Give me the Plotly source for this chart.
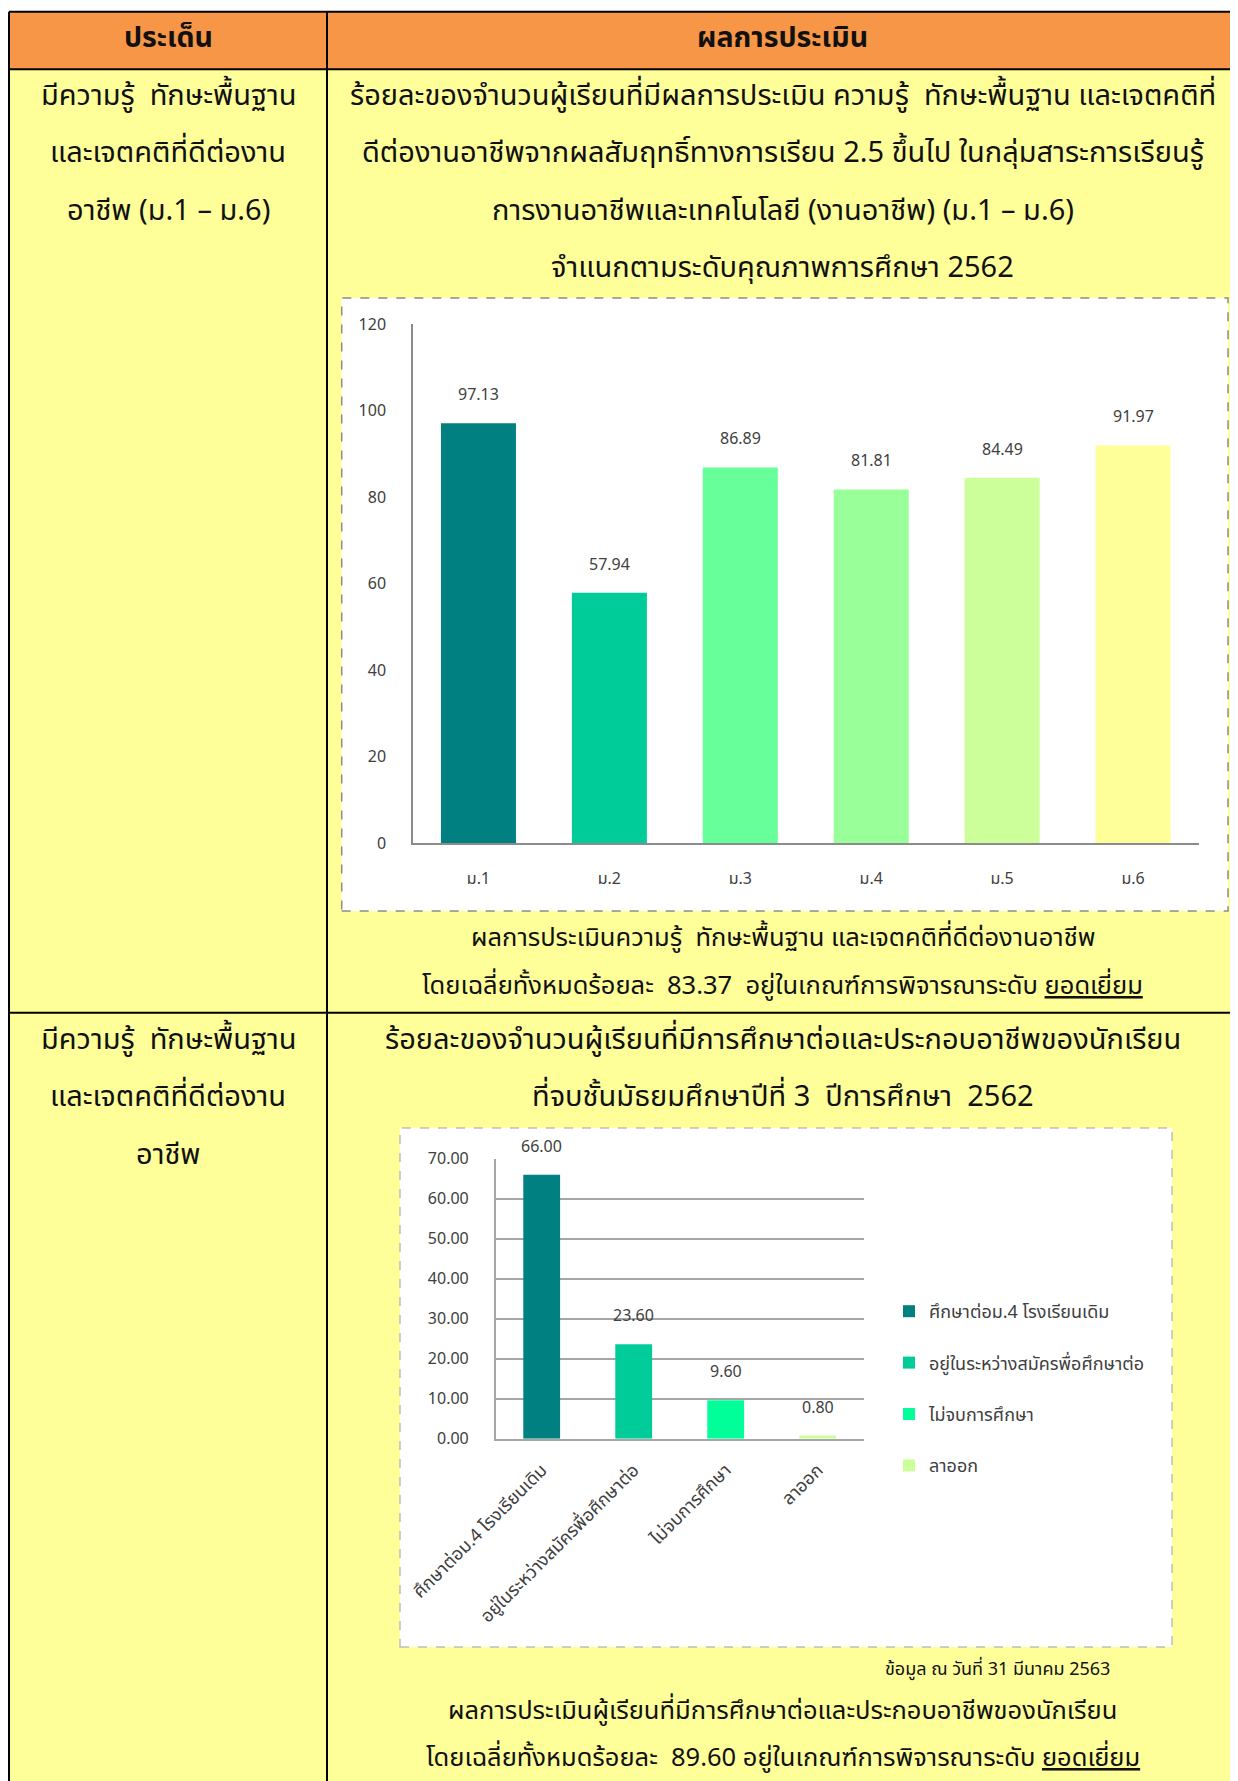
import plotly.graph_objects as go

PAGE_W, PAGE_H = 1238, 1781
OFF = 8  # default body margin of the html page
W, H = PAGE_W - OFF, PAGE_H - OFF

# ---------------- data ----------------
grades = ["ม.1", "ม.2", "ม.3", "ม.4", "ม.5", "ม.6"]
grade_pct = [97.13, 57.94, 86.89, 81.81, 84.49, 91.97]
grade_colors = ["#008080", "#00CC99", "#66FF99", "#99FF99", "#CCFF99", "#FFFF99"]
y1_ticks = [0, 20, 40, 60, 80, 100, 120]

outcomes = ["ศึกษาต่อม.4 โรงเรียนเดิม", "อยู่ในระหว่างสมัครพื่อศึกษาต่อ", "ไม่จบการศึกษา", "ลาออก"]
outcome_pct = [66.00, 23.60, 9.60, 0.80]
outcome_colors = ["#008080", "#00CC99", "#00FF99", "#CCFF99"]
y2_ticks = [0, 10, 20, 30, 40, 50, 60, 70]

header_left = "ประเด็น"
header_right = "ผลการประเมิน"
row1_left = ["มีความรู้  ทักษะพื้นฐาน", "และเจตคติที่ดีต่องาน", "อาชีพ (ม.1 – ม.6)"]
row1_title = ["ร้อยละของจำนวนผู้เรียนที่มีผลการประเมิน ความรู้  ทักษะพื้นฐาน และเจตคติที่",
              "ดีต่องานอาชีพจากผลสัมฤทธิ์ทางการเรียน 2.5 ขึ้นไป ในกลุ่มสาระการเรียนรู้",
              "การงานอาชีพและเทคโนโลยี (งานอาชีพ) (ม.1 – ม.6)",
              "จำแนกตามระดับคุณภาพการศึกษา 2562"]
row1_summary = ["ผลการประเมินความรู้  ทักษะพื้นฐาน และเจตคติที่ดีต่องานอาชีพ",
                "โดยเฉลี่ยทั้งหมดร้อยละ  83.37  อยู่ในเกณฑ์การพิจารณาระดับ <u>ยอดเยี่ยม</u>"]
row2_left = ["มีความรู้  ทักษะพื้นฐาน", "และเจตคติที่ดีต่องาน", "อาชีพ"]
row2_title = ["ร้อยละของจำนวนผู้เรียนที่มีการศึกษาต่อและประกอบอาชีพของนักเรียน",
              "ที่จบชั้นมัธยมศึกษาปีที่ 3  ปีการศึกษา  2562"]
row2_note = "ข้อมูล ณ วันที่ 31 มีนาคม 2563"
row2_summary = ["ผลการประเมินผู้เรียนที่มีการศึกษาต่อและประกอบอาชีพของนักเรียน",
                "โดยเฉลี่ยทั้งหมดร้อยละ  89.60 อยู่ในเกณฑ์การพิจารณาระดับ <u>ยอดเยี่ยม</u>"]


def fx(x):
    return (x - OFF) / W


def fy(y):
    return 1 - (y - OFF) / H


FONT = "Tahoma, 'Noto Sans Thai', 'Noto Sans', sans-serif"
TXT = "#111111"
TICK = "#404040"
BODY_SIZE = 29
SUM_SIZE = 25.5

fig = go.Figure()

# chart 1
fig.add_trace(go.Bar(x=grades, y=grade_pct, marker=dict(color=grade_colors, line=dict(width=0)),
                     width=0.573, showlegend=False, xaxis="x", yaxis="y", hoverinfo="x+y"))

# chart 2
for name, val, col in zip(outcomes, outcome_pct, outcome_colors):
    fig.add_trace(go.Bar(x=[name], y=[val], name=name, legendgroup=name,
                         marker=dict(color=col, line=dict(width=0)), width=0.4,
                         xaxis="x2", yaxis="y2"))

shapes = []
# table backgrounds
shapes.append(dict(type="rect", xref="paper", yref="paper", x0=fx(9), x1=fx(1245), y0=fy(69.3), y1=fy(11.7),
                   fillcolor="#F79646", line=dict(width=0), layer="below"))
shapes.append(dict(type="rect", xref="paper", yref="paper", x0=fx(9), x1=fx(1245), y0=fy(1790), y1=fy(69.3),
                   fillcolor="#FFFF99", line=dict(width=0), layer="below"))
# chart boxes
shapes.append(dict(type="rect", xref="paper", yref="paper", x0=fx(341.7), x1=fx(1228), y0=fy(911), y1=fy(298),
                   fillcolor="white", line=dict(color="#8C8C8C", width=1.5, dash="dash"), layer="below"))
shapes.append(dict(type="rect", xref="paper", yref="paper", x0=fx(400), x1=fx(1172), y0=fy(1647), y1=fy(1128),
                   fillcolor="white", line=dict(color="#BFBFBF", width=1.5, dash="dash"), layer="below"))
# table lines
black = dict(color="black", width=2)
shapes += [
    dict(type="line", xref="paper", yref="paper", x0=fx(9), x1=fx(1245), y0=fy(11.7), y1=fy(11.7), line=black),
    dict(type="line", xref="paper", yref="paper", x0=fx(9), x1=fx(1245), y0=fy(69.3), y1=fy(69.3), line=black),
    dict(type="line", xref="paper", yref="paper", x0=fx(9), x1=fx(1245), y0=fy(1012.7), y1=fy(1012.7), line=black),
    dict(type="line", xref="paper", yref="paper", x0=fx(9), x1=fx(9), y0=fy(1790), y1=fy(11.7), line=black),
    dict(type="line", xref="paper", yref="paper", x0=fx(327), x1=fx(327), y0=fy(1790), y1=fy(11.7), line=black),
]

annotations = []


def txt(text, x, y, size=BODY_SIZE, bold=False, color=TXT):
    annotations.append(dict(text=f"<b>{text}</b>" if bold else text, x=fx(x), y=fy(y), xref="paper", yref="paper",
                            xanchor="center", yanchor="middle", showarrow=False,
                            font=dict(family=FONT, size=size, color=color)))


txt(header_left, 168, 39, size=28.5, bold=True)
txt(header_right, 782.5, 39, size=28.5, bold=True)
for i, t in enumerate(row1_left):
    txt(t, 168, 96 + i * 57.3)
for i, t in enumerate(row1_title):
    txt(t, 782.5, 96 + i * 57.3)
txt(row1_summary[0], 782.5, 938, size=SUM_SIZE)
txt(row1_summary[1], 782.5, 986, size=SUM_SIZE)
for i, t in enumerate(row2_left):
    txt(t, 168, 1040 + i * 57.3)
for i, t in enumerate(row2_title):
    txt(t, 782.5, 1040 + i * 57.3)
txt(row2_note, 997, 1669, size=18)
txt(row2_summary[0], 782.5, 1711, size=SUM_SIZE)
txt(row2_summary[1], 782.5, 1758, size=SUM_SIZE)

# bar value labels
for g, v in zip(grades, grade_pct):
    annotations.append(dict(text=f"{v:.2f}", x=g, y=v, xref="x", yref="y", yshift=28, showarrow=False,
                            font=dict(family=FONT, size=16, color=TICK)))
for o, v in zip(outcomes, outcome_pct):
    annotations.append(dict(text=f"{v:.2f}", x=o, y=v, xref="x2", yref="y2", yshift=28, showarrow=False,
                            font=dict(family=FONT, size=16, color=TICK)))

axis_font = dict(family=FONT, size=16, color=TICK)

fig.update_layout(
    width=W, height=H, margin=dict(l=0, r=0, t=0, b=0, autoexpand=False),
    paper_bgcolor="white", plot_bgcolor="rgba(0,0,0,0)",
    barmode="overlay",
    shapes=shapes, annotations=annotations,
    font=dict(family=FONT, color=TICK),
    xaxis=dict(domain=[fx(413), fx(1198.5)], range=[-0.5, 5.5], showline=True, linecolor="#8C8C8C", linewidth=1.5,
               ticks="", tickfont=axis_font, ticklabelstandoff=20, showgrid=False, zeroline=False,
               fixedrange=True, anchor="y", automargin=False),
    yaxis=dict(domain=[fy(843.3), fy(324.2)], range=[0, 120], tickvals=y1_ticks, showline=True,
               linecolor="#8C8C8C", linewidth=1.5, ticks="", tickfont=axis_font, ticklabelstandoff=22,
               showgrid=False, zeroline=False, fixedrange=True, anchor="x", automargin=False),
    xaxis2=dict(domain=[fx(495.7), fx(863.7)], range=[-0.5, 3.5], showline=True, linecolor="#A6A6A6",
                linewidth=1.5, ticks="", tickfont=dict(family=FONT, size=18, color=TICK), tickangle=-45,
                ticklabelstandoff=12, showgrid=False, zeroline=False, fixedrange=True, anchor="y2",
                automargin=False),
    yaxis2=dict(domain=[fy(1438.7), fy(1158.7)], range=[0, 70], tickvals=y2_ticks, tickformat=".2f",
                showline=True, linecolor="#A6A6A6", linewidth=1.5, ticks="", tickfont=axis_font,
                ticklabelstandoff=22, showgrid=True, gridcolor="#A6A6A6", gridwidth=1.5, zeroline=False,
                fixedrange=True, anchor="x2", automargin=False),
    legend=dict(x=fx(889), y=fy(1293), xanchor="left", yanchor="top", bgcolor="rgba(0,0,0,0)",
                font=dict(family=FONT, size=18, color=TICK), tracegroupgap=25, itemwidth=30),
)

fig.write_html("out.html")
